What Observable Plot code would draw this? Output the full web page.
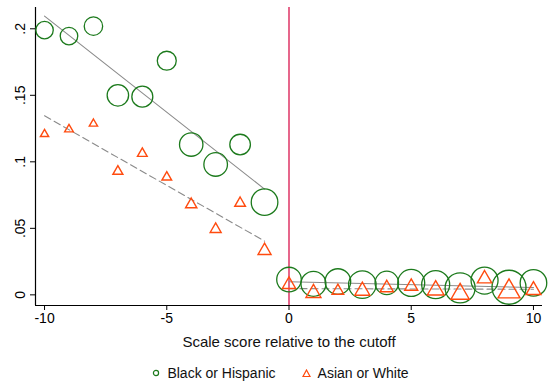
<!DOCTYPE html>
<html>
<head>
<meta charset="utf-8">
<script src="https://cdn.jsdelivr.net/npm/d3@7"></script>
<script src="https://cdn.jsdelivr.net/npm/@observablehq/plot@0.6"></script>
<style>
  html, body { margin: 0; padding: 0; background: #fff; }
  body { width: 549px; height: 381px; overflow: hidden; font-family: "Liberation Sans", Arial, Helvetica, sans-serif; }
  #legend { height: 29px; display: flex; justify-content: center; align-items: center; gap: 26px; font-size: 14px; color: #111; padding-left: 12px; box-sizing: border-box; padding-top: 13px; }
  #legend .item { display: flex; align-items: center; gap: 7px; }
</style>
</head>
<body>
<div id="chart"></div>
<div id="legend"></div>
<script>
// Scale score relative to the cutoff
const scoreX = [-10, -9, -8, -7, -6, -5, -4, -3, -2, -1, 0, 1, 2, 3, 4, 5, 6, 7, 8, 9, 10];

// Black or Hispanic: share and cell weight
const blackHispanicY = [0.199, 0.1945, 0.202, 0.150, 0.149, 0.176, 0.113, 0.098, 0.113, 0.0697,
  0.0115, 0.0083, 0.0100, 0.0077, 0.0090, 0.0090, 0.0077, 0.0052, 0.0107, 0.0057, 0.0090];
const blackHispanicN = [760, 770, 850, 1150, 1100, 900, 1370, 1390, 1060, 1770,
  1510, 1560, 1640, 1900, 1370, 1820, 1960, 2250, 1820, 2890, 1770];

// Asian or White: share and cell weight
const asianWhiteY = [0.1208, 0.1244, 0.1286, 0.0928, 0.1062, 0.0884, 0.0679, 0.0493, 0.0689, 0.0332,
  0.0077, 0.0013, 0.0030, 0.0030, 0.0052, 0.0063, 0.0035, 0.0007, 0.0121, 0.0025, 0.0035];
const asianWhiteN = [95, 104, 95, 138, 130, 130, 176, 166, 158, 233,
  244, 310, 188, 310, 244, 233, 384, 462, 282, 667, 310];

// Linear fits on each side of the cutoff (endpoints)
const fitLeftX = [-10, -1];
const fitRightX = [0, 10];
const fitBHLeft = [0.2095, 0.0795];
const fitBHRight = [0.0098, 0.0055];
const fitAWLeft = [0.1346, 0.0404];
const fitAWRight = [0.0047, 0.0042];

const xTicks = [-10, -5, 0, 5, 10];
const yTicks = [0, 0.05, 0.1, 0.15, 0.2];
const yTickLabels = ["0", ".05", ".1", ".15", ".2"];
const xTitle = "Scale score relative to the cutoff";
const seriesNames = ["Black or Hispanic", "Asian or White"];

const GREEN = "#1c7a1c";
const ORANGE = "#ff4b0f";
const RED = "#d6003f";
const GRAY = "#8a8a8a";

const bh = scoreX.map((x, i) => ({x, y: blackHispanicY[i], n: blackHispanicN[i]}));
const aw = scoreX.map((x, i) => ({x, y: asianWhiteY[i], n: asianWhiteN[i]}));
const fit = (xs, ys, g) => xs.map((x, i) => ({x, y: ys[i], g}));
const fits = [
  ...fit(fitLeftX, fitBHLeft, "bhL"), ...fit(fitRightX, fitBHRight, "bhR")
];
const fitsD = [
  ...fit(fitLeftX, fitAWLeft, "awL"), ...fit(fitRightX, fitAWRight, "awR")
];

const font = "Liberation Sans, Arial, Helvetica, sans-serif";

const plot = Plot.plot({
  width: 549,
  height: 352,
  marginLeft: 35,
  marginRight: 7,
  marginTop: 7,
  marginBottom: 47,
  style: {fontFamily: font, background: "#fff", color: "#000"},
  x: {domain: [-10.37, 10.37], label: null},
  y: {domain: [-0.008, 0.216], label: null},
  r: {type: "sqrt", domain: [0, 2890], range: [0, 17]},
  marks: [
    Plot.ruleX([-10.37], {stroke: "#000", strokeWidth: 1.2}),
    Plot.ruleY([-0.008], {stroke: "#000", strokeWidth: 1.2}),
    Plot.axisY({ticks: yTicks, tickSize: 5, tickFormat: () => "", stroke: "#000"}),
    Plot.text(yTicks, {y: d => d, text: (d, i) => yTickLabels[i], frameAnchor: "left", dx: -15,
      rotate: -90, textAnchor: "middle", lineAnchor: "middle", fontSize: 14, fill: "#000"}),
    Plot.axisX({ticks: xTicks, tickSize: 5, tickPadding: 3, fontSize: 14, tickFormat: d => String(d), stroke: "#000", fill: "#000"}),
    Plot.text([0], {x: d => d, text: [xTitle], frameAnchor: "bottom", dy: 37, fontSize: 15, lineAnchor: "middle", fill: "#111"}),
    Plot.ruleX([0], {stroke: RED, strokeWidth: 1.2}),
    Plot.line(fits, {x: "x", y: "y", z: "g", stroke: GRAY, strokeWidth: 1.1}),
    Plot.line(fitsD, {x: "x", y: "y", z: "g", stroke: GRAY, strokeWidth: 1.1, strokeDasharray: "7,4"}),
    Plot.dot(bh, {x: "x", y: "y", r: "n", stroke: GREEN, strokeWidth: 1.3, fill: "none"}),
    Plot.dot(aw, {x: "x", y: "y", r: "n", symbol: "triangle", stroke: ORANGE, strokeWidth: 1.4, fill: "none"})
  ]
});
document.getElementById("chart").appendChild(plot);

const legend = document.getElementById("legend");
legend.innerHTML =
  `<div class="item"><svg width="8" height="8"><circle cx="4" cy="4" r="2.6" fill="none" stroke="${GREEN}" stroke-width="1.2"/></svg><span>${seriesNames[0]}</span></div>` +
  `<div class="item"><svg width="9" height="9"><path d="M4.5,1 L8,7.5 L1,7.5 Z" fill="none" stroke="${ORANGE}" stroke-width="1.2"/></svg><span>${seriesNames[1]}</span></div>`;
</script>
</body>
</html>
